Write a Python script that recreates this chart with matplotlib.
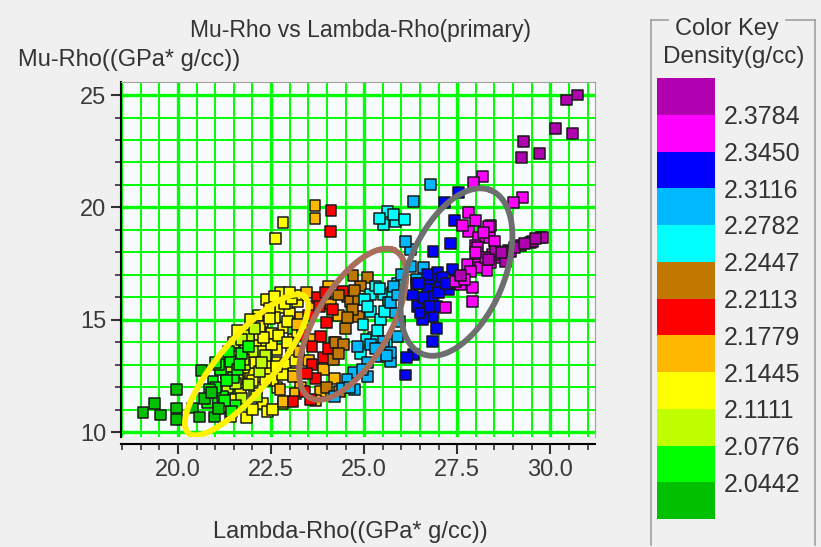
import numpy as np
import matplotlib
matplotlib.use('Agg')
import matplotlib.pyplot as plt
from matplotlib.colors import ListedColormap, BoundaryNorm
from matplotlib.lines import Line2D
import matplotlib.colorbar as mcolorbar

plt.rcParams['font.family'] = ['Liberation Sans', 'DejaVu Sans']

# 色标 (从低到高)
key_colors = ['#00C000', '#00FF00', '#C0FF00', '#FFFF00', '#FFB800', '#FF0000',
              '#C07800', '#00FFFF', '#00B8FF', '#0000FF', '#FF00FF', '#B000B0']
key_bounds = [2.0108, 2.0442, 2.0776, 2.1111, 2.1445, 2.1779, 2.2113,
              2.2447, 2.2782, 2.3116, 2.3450, 2.3784, 2.4118]
key_labels = ['2.0442', '2.0776', '2.1111', '2.1445', '2.1779', '2.2113',
              '2.2447', '2.2782', '2.3116', '2.3450', '2.3784']
density_levels = [2.027, 2.060, 2.094, 2.128, 2.161, 2.195,
                  2.228, 2.261, 2.295, 2.328, 2.362, 2.395]

# 每个密度等级的点 (Lambda-Rho, Mu-Rho)
lr_0 = [19.06, 19.38, 19.52, 19.95, 19.97, 19.97, 20.40, 20.59, 20.70, 20.91, 20.99, 21.10, 20.62]
mr_0 = [10.89, 11.29, 10.76, 11.88, 11.07, 10.54, 11.07, 10.67, 11.50, 11.74, 10.67, 11.05, 12.75]

lr_1 = [21.13, 21.26, 21.48, 21.40, 20.94, 21.20, 21.55, 21.00, 21.70, 21.35, 21.10, 21.60,
        20.80, 21.45, 21.90, 20.85, 21.30, 21.00, 21.65, 21.25]
mr_1 = [12.77, 13.21, 12.41, 13.13, 12.23, 11.60, 11.20, 12.00, 13.50, 13.60, 13.00, 12.80,
        11.30, 10.90, 13.80, 11.90, 12.30, 13.10, 13.00, 11.40]

lr_2 = [21.32, 21.60, 21.80, 21.90, 22.00, 21.50, 21.70, 22.20, 21.90, 22.10, 21.30, 22.35,
        21.55, 21.75, 22.25, 21.70, 22.05, 21.45]
mr_2 = [11.96, 12.40, 13.00, 12.10, 13.60, 14.00, 11.50, 12.70, 14.30, 11.60, 12.60, 13.40,
        12.15, 13.25, 13.10, 14.10, 14.60, 12.90]

lr_3 = [21.67, 21.32, 21.40, 21.85, 21.88, 21.59, 21.80, 22.07, 22.12, 21.85, 22.20, 22.39,
        22.66, 22.47, 22.34, 22.66, 22.28, 22.82, 23.09, 22.39, 22.93, 23.20, 22.74, 21.67,
        22.12, 22.28, 21.85, 22.66, 22.82, 22.60, 23.00, 22.50, 22.90, 23.10, 22.95, 22.15,
        22.55, 22.00, 22.40, 21.60, 23.30, 22.75, 22.82, 22.61, 23.05, 22.45, 21.95,
        21.75, 22.00, 22.25, 22.50, 22.70, 22.20, 22.45, 22.85, 23.05, 22.60, 22.05, 22.35,
        22.80, 23.15, 23.20, 22.95, 21.55, 22.05, 22.55, 21.95, 22.65, 22.30, 23.00]
mr_3 = [11.74, 11.12, 10.67, 12.41, 12.99, 13.35, 13.66, 13.35, 13.88, 14.11, 14.33, 14.02,
        13.66, 12.63, 13.08, 13.08, 14.91, 14.64, 14.11, 15.89, 16.03, 15.80, 15.54, 12.19,
        12.00, 11.29, 10.63, 12.00, 11.29, 15.10, 15.30, 14.40, 13.00, 12.60, 14.90, 15.20,
        12.30, 11.00, 10.90, 14.50, 16.10, 16.20, 19.33, 18.62, 13.60, 15.50, 12.60,
        12.85, 12.30, 13.60, 13.90, 14.30, 14.70, 15.05, 15.70, 15.95, 16.05, 13.10, 12.35,
        12.55, 13.20, 14.45, 14.00, 11.45, 11.70, 11.00, 15.00, 12.90, 14.20, 16.20]

lr_4 = [23.68, 23.68, 23.28, 23.09, 22.74, 23.82, 22.82, 24.54, 23.40, 23.50, 23.30, 23.60,
        24.30, 23.20, 24.20, 23.70, 23.45, 24.05, 23.25, 23.55, 23.15, 24.10, 23.90]
mr_4 = [20.09, 19.51, 15.09, 12.46, 11.88, 11.79, 11.34, 16.03, 14.50, 13.20, 12.00, 15.60,
        15.20, 14.80, 12.40, 11.40, 16.20, 16.50, 13.60, 14.10, 11.70, 15.70, 12.80]

lr_5 = [24.11, 24.09, 24.41, 24.14, 24.00, 23.82, 23.60, 23.90, 23.60, 23.09, 23.74, 23.50,
        23.70, 23.40, 24.20, 23.35, 23.95, 23.55, 23.80, 23.45, 24.05]
mr_5 = [19.87, 18.93, 16.25, 15.45, 14.87, 14.24, 13.79, 13.30, 12.99, 11.34, 15.98, 15.20,
        12.40, 11.80, 14.00, 14.30, 16.20, 11.45, 15.60, 12.60, 13.70]

lr_6 = [25.08, 24.62, 24.84, 24.84, 24.68, 24.22, 24.44, 24.17, 24.30, 24.90, 24.50, 24.00,
        24.35, 24.70, 24.55, 24.75, 24.30]
mr_6 = [16.88, 15.80, 15.89, 15.13, 15.45, 13.97, 13.88, 13.21, 16.10, 16.50, 14.60, 12.00,
        11.80, 16.95, 15.10, 16.30, 13.50]

lr_7 = [25.16, 25.51, 25.65, 25.16, 24.97, 25.43, 25.75, 25.62, 25.83, 25.51, 25.78, 26.08,
        25.30, 25.00, 25.90, 25.25, 24.90, 25.60, 25.40, 25.10, 25.55, 25.35, 25.05, 25.40]
mr_7 = [16.12, 16.12, 15.76, 15.36, 14.78, 15.00, 16.21, 19.82, 19.37, 19.24, 19.69, 19.46,
        16.50, 15.90, 16.60, 14.20, 13.50, 13.90, 16.40, 15.60, 15.35, 14.50, 14.10, 19.50]

lr_8 = [26.77, 26.32, 26.24, 26.59, 25.89, 25.51, 25.16, 24.81, 25.43, 25.08, 24.70, 25.08,
        24.54, 25.70, 24.41, 25.78, 25.70, 25.70, 26.24, 26.00, 26.40, 24.20, 24.75, 25.95,
        25.30, 25.60, 24.95, 24.60, 25.90, 26.10, 25.85]
mr_8 = [21.03, 20.27, 18.13, 17.32, 14.24, 14.02, 13.88, 13.79, 13.35, 13.08, 12.63, 12.46,
        12.32, 13.13, 11.96, 16.47, 15.76, 13.53, 17.37, 17.00, 16.80, 11.60, 11.90, 14.90,
        13.70, 13.40, 12.80, 12.00, 16.10, 18.50, 15.30]

lr_9 = [27.53, 27.15, 27.42, 27.31, 26.85, 26.96, 26.77, 27.04, 26.69, 27.26, 27.37, 26.85,
        26.56, 26.69, 26.56, 26.85, 26.42, 26.83, 26.32, 26.15, 26.10, 27.10, 26.40, 27.50,
        26.95, 26.30, 26.60, 26.75, 27.00, 26.50, 27.20, 26.70, 26.95, 26.45]
mr_9 = [20.67, 20.22, 19.42, 18.39, 18.04, 17.10, 16.79, 16.47, 16.34, 16.34, 17.23, 16.03,
        15.89, 15.31, 15.00, 15.13, 15.58, 14.02, 13.44, 13.30, 12.54, 16.90, 16.60, 16.60,
        15.60, 16.10, 16.00, 15.60, 16.20, 15.30, 16.60, 17.00, 14.60, 16.60]

lr_10 = [28.17, 27.93, 29.25, 29.00, 27.80, 27.98, 27.80, 28.06, 28.39, 28.36, 27.98, 28.33,
         28.04, 28.44, 27.77, 28.06, 27.58, 27.90, 27.18, 27.90, 28.66, 28.39, 28.12, 27.85,
         27.45, 28.25, 28.20, 28.50, 28.30, 27.70, 28.00, 27.65]
mr_10 = [21.38, 21.12, 20.45, 20.22, 19.78, 19.42, 18.93, 18.66, 19.20, 18.66, 18.30, 19.15,
         18.21, 17.90, 17.46, 17.46, 16.56, 16.43, 15.54, 15.80, 17.77, 17.54, 17.32, 17.14,
         16.70, 17.77, 18.90, 18.50, 17.20, 16.80, 18.00, 19.20]

lr_11 = [30.43, 30.73, 30.13, 30.59, 29.27, 29.22, 29.70, 29.73, 29.46, 29.19, 28.87, 28.60,
         28.92, 29.52, 29.78, 28.52, 28.79, 27.58, 29.05, 28.35, 29.30, 29.60, 28.70]
mr_11 = [24.78, 25.00, 23.53, 23.30, 22.95, 22.23, 22.41, 18.66, 18.44, 18.30, 18.08, 17.90,
         18.04, 18.48, 18.66, 18.04, 17.59, 16.96, 18.20, 17.70, 18.40, 18.60, 18.00]

lr_all = [lr_0, lr_1, lr_2, lr_3, lr_4, lr_5, lr_6, lr_7, lr_8, lr_9, lr_10, lr_11]
mr_all = [mr_0, mr_1, mr_2, mr_3, mr_4, mr_5, mr_6, mr_7, mr_8, mr_9, mr_10, mr_11]

# 圈出的区域: 中心, 长半轴向量, 短半轴向量 (数据坐标)
ellipse_colors = ['#FFF200', '#A8705C', '#6E6E6E']
ellipse_centers = [(21.84, 12.99), (24.69, 14.80), (27.48, 17.12)]
ellipse_major = [(1.56, 3.04), (1.08, 3.32), (0.89, 3.66)]
ellipse_minor = [(0.55, -0.78), (0.95, -0.55), (1.21, -0.71)]

cmap = ListedColormap(key_colors)
norm = BoundaryNorm(key_bounds, cmap.N)

fig = plt.figure(figsize=(8.21, 5.47), dpi=100, facecolor='#F0F0F0')
ax = fig.add_axes([121 / 821, 1 - 437 / 547, 474 / 821, 355 / 547])
ax.set_facecolor('#F8FCFF')

# 网格
for v in np.arange(18.5, 31.3, 0.5):
    lw = 2.4 if abs(v / 2.5 - round(v / 2.5)) < 1e-6 else 1.4
    ax.axvline(v, color='#00FF00', lw=lw, zorder=0)
for v in np.arange(10, 26, 1):
    lw = 2.4 if v % 5 == 0 else 1.4
    ax.axhline(v, color='#00FF00', lw=lw, zorder=0)

# 散点 (黄色先画, 绿色点压在上面)
draw_order = [3, 2, 1, 0, 4, 5, 6, 7, 8, 9, 10, 11]
for i in draw_order:
    ax.scatter(lr_all[i], mr_all[i], c=[density_levels[i]] * len(lr_all[i]),
               cmap=cmap, norm=norm, marker='s', s=62,
               edgecolors='#181818', linewidths=1.1, zorder=3)

# 椭圆
t = np.linspace(0, 2 * np.pi, 200)
for col, c, a, b in zip(ellipse_colors, ellipse_centers, ellipse_major, ellipse_minor):
    ex = c[0] + a[0] * np.cos(t) + b[0] * np.sin(t)
    ey = c[1] + a[1] * np.cos(t) + b[1] * np.sin(t)
    ax.plot(ex, ey, color=col, lw=4.2, zorder=4)

ax.set_xlim(18.47, 31.2)
ax.set_ylim(9.78, 25.58)
ax.set_xticks([20, 22.5, 25, 27.5, 30])
ax.set_xticklabels(['20.0', '22.5', '25.0', '27.5', '30.0'])
ax.set_xticks(np.arange(18.5, 31.3, 0.5), minor=True)
ax.set_yticks([10, 15, 20, 25])
ax.set_yticks(np.arange(10, 26, 1), minor=True)
ax.tick_params(which='major', length=7, width=1.5, color='#303030', labelsize=17,
               labelcolor='#3A3A3A')
ax.tick_params(which='minor', length=4, width=1.2, color='#303030')
ax.spines['bottom'].set_position(('outward', 5))
ax.spines['bottom'].set_linewidth(1.5)
ax.spines['left'].set_linewidth(1.5)
ax.spines['top'].set_color('#A0A0A0')
ax.spines['right'].set_color('#A0A0A0')

fig.text(360 / 821, 1 - 31 / 547, 'Mu-Rho vs Lambda-Rho(primary)', ha='center', va='center',
         fontsize=16.5, color='#333333')
fig.text(18 / 821, 1 - 60 / 547, 'Mu-Rho((GPa* g/cc))', ha='left', va='center',
         fontsize=17, color='#333333')
fig.text(350 / 821, 1 - 532 / 547, 'Lambda-Rho((GPa* g/cc))', ha='center', va='center',
         fontsize=17, color='#333333')

# 色标
cax = fig.add_axes([657 / 821, 1 - 519 / 547, 58 / 821, 441 / 547])
cb = mcolorbar.ColorbarBase(cax, cmap=cmap, norm=norm, boundaries=key_bounds,
                            ticks=key_bounds[1:-1], orientation='vertical')
cb.set_ticklabels(key_labels)
cb.outline.set_visible(False)
cax.minorticks_off()
cax.tick_params(which='both', length=0, labelsize=18, pad=6, labelcolor='#333333')

fig.text(727 / 821, 1 - 29 / 547, 'Color Key', ha='center', va='center',
         fontsize=17, color='#333333')
fig.text(734 / 821, 1 - 57 / 547, 'Density(g/cc)', ha='center', va='center',
         fontsize=17.5, color='#333333')

# 分组框
gx0, gx1, gy0, gy1 = 651 / 821, 815 / 821, 1 - 20 / 547, 1 - 545 / 547
for xs, ys in [([gx0, gx0], [gy0, gy1]), ([gx1, gx1], [gy0, gy1]),
               ([gx0, 668 / 821], [gy0, gy0]), ([786 / 821, gx1], [gy0, gy0])]:
    fig.add_artist(Line2D(xs, ys, color='#A0A0A0', lw=1.2))

fig.savefig('out.png', dpi=100, facecolor=fig.get_facecolor())
